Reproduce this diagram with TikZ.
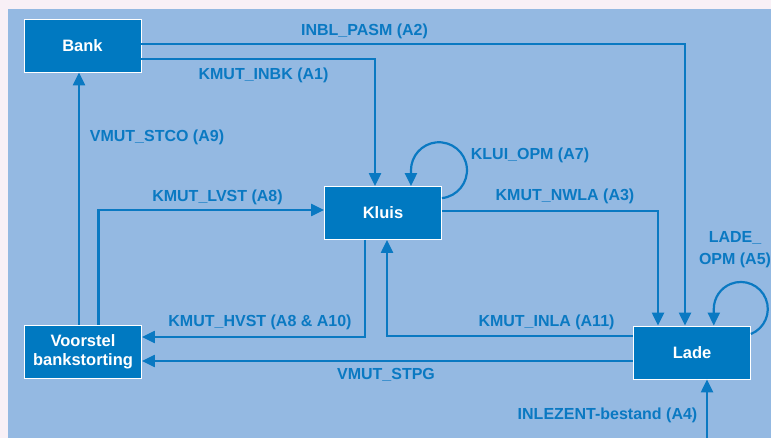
\documentclass[tikz,border=0pt]{standalone}
\usepackage{fontspec}
\setmainfont{Liberation Sans}
\usetikzlibrary{arrows.meta}
\definecolor{paper}{HTML}{F8F0F6}
\definecolor{field}{HTML}{94B9E2}
\definecolor{boxblue}{HTML}{0079C1}
\definecolor{flowblue}{HTML}{0A79C2}
\tikzset{
  store/.style={rectangle, fill=boxblue, draw=white, line width=0.8pt,
    minimum width=117pt, minimum height=53pt, inner sep=0pt,
    text=white, align=center,
    font=\bfseries\fontsize{16.5}{19}\selectfont},
  flow/.style={draw=flowblue, line width=2.2pt,
    -{Triangle[length=13pt,width=12pt]}},
  flowlabel/.style={text=flowblue, inner sep=0pt, align=center,
    font=\bfseries\fontsize{16}{22}\selectfont}
}
\begin{document}
\begin{tikzpicture}[x=1pt,y=1pt]
  % page and field
  \fill[paper] (0,0) rectangle (771,-438);
  \fill[field] (8,-9) rectangle (771,-438);
  \useasboundingbox (0,0) rectangle (771,-438);

  % stores
  \node[store] (bank) at (82.5,-45.5) {Bank};
  \node[store] (kluis) at (383,-213) {Kluis};
  \node[store] (voorstel) at (83,-351.5) {Voorstel\\bankstorting};
  \node[store] (lade) at (692,-352.5) {Lade};
  \coordinate (extern) at (707,-440);

  % flows
  \draw[flow] ([yshift=1.5pt]bank.east) -| ([xshift=-7pt]lade.north);
  \draw[flow] ([yshift=-13.5pt]bank.east) -| ([xshift=-8pt]kluis.north);
  \draw[flow] ([xshift=-4pt]voorstel.north) -- ([xshift=-4pt]voorstel.north |- bank.south);
  \draw[flow] ([xshift=15.5pt]voorstel.north) |- ([yshift=3pt]kluis.west);
  \draw[flow] ([yshift=2pt]kluis.east) -| ([xshift=-34pt]lade.north);
  \draw[flow] ([xshift=-18pt]kluis.south) |- ([yshift=14.5pt]voorstel.east);
  \draw[flow] ([yshift=16.5pt]lade.west) -| ([xshift=4pt]kluis.south);
  \draw[flow] ([yshift=-8.5pt]lade.west) -- ([yshift=-8.5pt]lade.west -| voorstel.east);
  \draw[flow] (extern) -- (extern |- lade.south);

  % self loops: round the top, then straight down onto the box
  \draw[flow] ([yshift=-12pt]kluis.north east)
    arc[start angle=-84, end angle=180, radius=28] coordinate (kloop)
    -- (kloop |- kluis.north);
  \draw[flow] ([yshift=18.5pt]lade.east)
    arc[start angle=-68, end angle=180, radius=27] coordinate (lloop)
    -- (lloop |- lade.north);

  % labels
  \node[flowlabel] at (364.5,-31) {INBL\_PASM (A2)};
  \node[flowlabel] at (263.5,-75.5) {KMUT\_INBK (A1)};
  \node[flowlabel] at (157,-137) {VMUT\_STCO (A9)};
  \node[flowlabel] at (217.5,-197.5) {KMUT\_LVST (A8)};
  \node[flowlabel] at (530,-155) {KLUI\_OPM (A7)};
  \node[flowlabel] at (565,-196.5) {KMUT\_NWLA (A3)};
  \node[flowlabel] at (260,-322.5) {KMUT\_HVST (A8 \& A10)};
  \node[flowlabel] at (546.5,-322.5) {KMUT\_INLA (A11)};
  \node[flowlabel] at (386,-375) {VMUT\_STPG};
  \node[flowlabel] at (607.5,-415.5) {INLEZENT-bestand (A4)};
  \node[flowlabel] at (735,-250) {LADE\_\\OPM (A5)};
\end{tikzpicture}
\end{document}
